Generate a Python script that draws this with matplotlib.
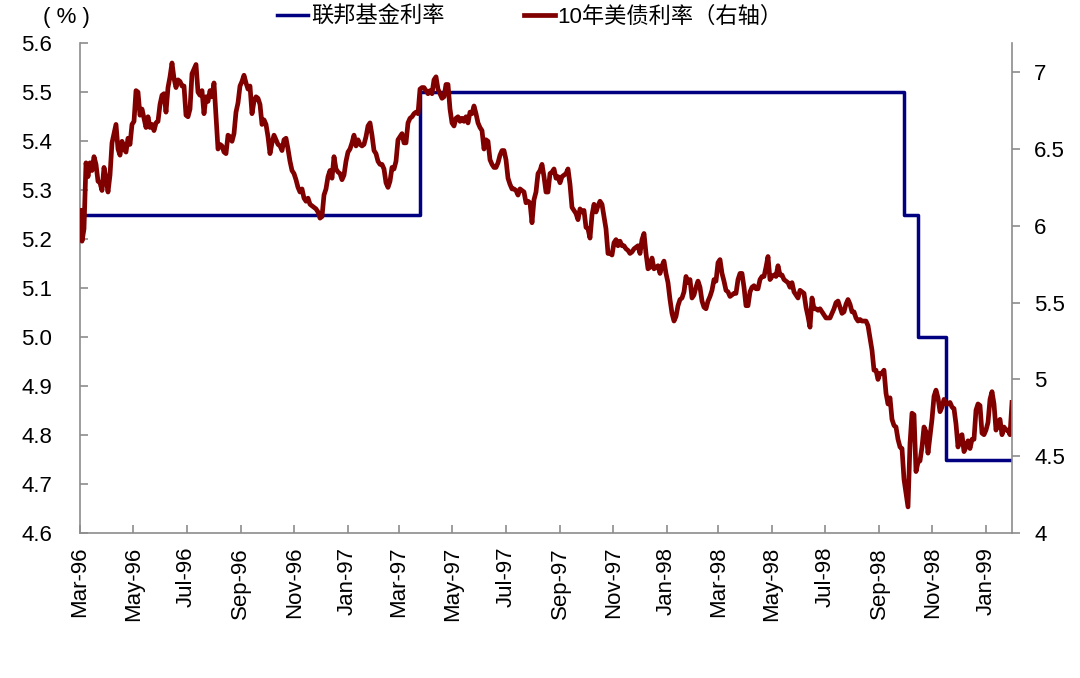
import pandas as pd
import matplotlib
matplotlib.use('Agg')
import matplotlib.pyplot as plt
import matplotlib.dates as mdates
from matplotlib.ticker import FuncFormatter

plt.rcParams['font.family'] = ['Liberation Sans', 'Noto Sans CJK SC']

# 联邦基金目标利率 (左轴)
fed_dates = ['1996-03-01', '1997-03-25', '1998-09-29', '1998-10-15', '1998-11-17', '1999-01-31']
fed_rates = [5.25, 5.50, 5.25, 5.00, 4.75, 4.75]

# 10年美债利率 (右轴), 读图得到, 等间隔
ust_start = '1996-03-01'
ust_end = '1999-01-31'
ust10y = [
    6.10, 5.90, 5.98, 6.41, 6.32, 6.41, 6.36, 6.45, 6.40, 6.29,
    6.28, 6.23, 6.38, 6.31, 6.22, 6.33, 6.54, 6.60, 6.66, 6.50,
    6.46, 6.55, 6.50, 6.48, 6.57, 6.53, 6.66, 6.68, 6.88, 6.87,
    6.72, 6.76, 6.70, 6.64, 6.71, 6.64, 6.66, 6.62, 6.67, 6.68,
    6.79, 6.85, 6.86, 6.74, 6.90, 6.97, 7.06, 6.96, 6.90, 6.95,
    6.94, 6.91, 6.91, 6.72, 6.71, 6.76, 6.99, 7.02, 7.05, 6.87,
    6.85, 6.88, 6.73, 6.84, 6.81, 6.88, 6.84, 6.93, 6.72, 6.50,
    6.53, 6.52, 6.48, 6.47, 6.59, 6.58, 6.55, 6.60, 6.74, 6.80,
    6.91,
    6.94, 6.98, 6.93, 6.89, 6.91, 6.73, 6.81, 6.84, 6.83, 6.79,
    6.66, 6.69, 6.66, 6.58, 6.47, 6.54, 6.59, 6.56, 6.53, 6.52,
    6.49, 6.56, 6.57, 6.50, 6.42, 6.36, 6.34, 6.30, 6.25, 6.22,
    6.24, 6.18, 6.16, 6.18, 6.14, 6.13, 6.12, 6.11, 6.09, 6.05,
    6.06, 6.20, 6.24, 6.32, 6.36, 6.31, 6.45, 6.37, 6.35, 6.34,
    6.30, 6.33, 6.42, 6.48, 6.50, 6.54, 6.59, 6.52, 6.56, 6.53,
    6.52, 6.53, 6.58, 6.65, 6.67, 6.59, 6.49, 6.47, 6.42, 6.40,
    6.40, 6.37, 6.28, 6.25, 6.29, 6.38, 6.37, 6.42,
    6.56, 6.58, 6.60, 6.54, 6.54, 6.67, 6.70, 6.71, 6.73, 6.74,
    6.73, 6.89, 6.90, 6.90, 6.88, 6.86, 6.88, 6.86, 6.95, 6.97,
    6.89, 6.86, 6.83, 6.84, 6.92, 6.92, 6.76, 6.67, 6.65, 6.70,
    6.71, 6.68, 6.70, 6.68, 6.71, 6.67, 6.74, 6.73, 6.78, 6.73,
    6.67, 6.64, 6.62, 6.50, 6.56, 6.55, 6.43, 6.40, 6.38, 6.38,
    6.41, 6.46, 6.49, 6.49, 6.43, 6.31, 6.27, 6.24, 6.24, 6.23,
    6.20, 6.24, 6.23, 6.22, 6.15, 6.16, 6.15, 6.02, 6.17, 6.22,
    6.34, 6.36, 6.40, 6.32, 6.22, 6.22, 6.34,
    6.35, 6.37, 6.31, 6.32, 6.28, 6.32, 6.33, 6.34, 6.37, 6.27,
    6.12, 6.10, 6.08, 6.04, 6.11, 6.09, 6.10, 5.99, 5.98, 5.92,
    6.07, 6.14, 6.09, 6.13, 6.16, 6.14, 6.06, 5.98, 5.82, 5.82,
    5.81, 5.89, 5.91, 5.87, 5.90, 5.87, 5.87, 5.85, 5.84, 5.82,
    5.83, 5.85, 5.86, 5.87, 5.82, 5.91, 5.95, 5.82, 5.72, 5.73,
    5.79, 5.72, 5.73, 5.74, 5.69, 5.74, 5.77, 5.69, 5.63, 5.52,
    5.43, 5.38, 5.41, 5.48, 5.52, 5.53, 5.57, 5.67, 5.63, 5.65,
    5.53, 5.55, 5.60, 5.64, 5.60, 5.51, 5.47, 5.46,
    5.51, 5.54, 5.58, 5.65, 5.64, 5.76, 5.78, 5.69, 5.64, 5.58,
    5.57, 5.54, 5.55, 5.56, 5.56, 5.65, 5.69, 5.69, 5.60, 5.48,
    5.48, 5.57, 5.60, 5.61, 5.59, 5.59, 5.65, 5.67, 5.67, 5.73,
    5.80, 5.65, 5.67, 5.68, 5.67, 5.74, 5.68, 5.68, 5.65, 5.64,
    5.63, 5.60, 5.63, 5.57, 5.55, 5.53, 5.58, 5.57, 5.56, 5.47,
    5.41, 5.34, 5.53, 5.46, 5.46, 5.45, 5.46, 5.44, 5.42, 5.40,
    5.40, 5.40, 5.43, 5.46, 5.50, 5.51, 5.47, 5.43, 5.44, 5.49,
    5.52, 5.49, 5.44, 5.44, 5.40, 5.38, 5.39,
    5.38, 5.38, 5.38, 5.35, 5.27, 5.19, 5.06, 5.06, 5.00, 5.04,
    5.04, 5.06, 4.91, 4.84, 4.88, 4.74, 4.70, 4.69, 4.61, 4.56,
    4.55, 4.35, 4.26, 4.17, 4.58, 4.78, 4.77, 4.40, 4.46, 4.47,
    4.56, 4.69, 4.66, 4.52, 4.63, 4.74, 4.89, 4.93, 4.88, 4.79,
    4.82, 4.87, 4.84, 4.84, 4.85, 4.82, 4.81, 4.71, 4.56, 4.63,
    4.64, 4.53, 4.56, 4.60, 4.55, 4.61, 4.61, 4.80, 4.84, 4.83,
    4.65, 4.64, 4.67, 4.72, 4.87, 4.92, 4.84, 4.67, 4.72, 4.74,
    4.64, 4.69, 4.67, 4.67, 4.64, 4.85,
]

left_ticks = [4.6, 4.7, 4.8, 4.9, 5.0, 5.1, 5.2, 5.3, 5.4, 5.5, 5.6]
right_ticks = [4, 4.5, 5, 5.5, 6, 6.5, 7]

ust_dates = pd.date_range(ust_start, ust_end, periods=len(ust10y))
fed_x = pd.to_datetime(fed_dates)

grey = '#8c8c8c'
fs = 16

fig = plt.figure(figsize=(10.8, 6.78), dpi=100)
ax = fig.add_axes([80 / 1080, 1 - 533 / 678, (1012 - 80) / 1080, 490 / 678])
ax2 = ax.twinx()

l1, = ax.plot(fed_x, fed_rates, drawstyle='steps-post', color='#000080', lw=2.5)
l2, = ax2.plot(ust_dates, ust10y, color='#800000', lw=3.4)

ax.set_xlim(pd.Timestamp(ust_start), pd.Timestamp(ust_end))
ax.set_ylim(4.6, 5.6)
ax2.set_ylim(4, 4 + 490 / 153.6)

ax.set_yticks(left_ticks)
ax.yaxis.set_major_formatter(FuncFormatter(lambda v, p: '%.1f' % v))
ax2.set_yticks(right_ticks)
ax2.yaxis.set_major_formatter(FuncFormatter(lambda v, p: '%g' % v))

ax.xaxis.set_major_locator(mdates.MonthLocator(bymonth=[1, 3, 5, 7, 9, 11]))
ax.xaxis.set_major_formatter(mdates.DateFormatter('%b-%y'))

for a in (ax, ax2):
    a.spines['top'].set_visible(False)
ax.spines['right'].set_visible(False)
ax2.spines['left'].set_visible(False)
ax2.spines['bottom'].set_visible(False)
for s in (ax.spines['left'], ax.spines['bottom'], ax2.spines['right']):
    s.set_color(grey)
    s.set_linewidth(1.2)

ax.tick_params(axis='y', direction='in', length=6, width=1.2, color=grey, pad=20, labelsize=fs)
ax.tick_params(axis='x', direction='in', length=6, width=1.2, color=grey, pad=10, labelsize=fs, labelrotation=90)
ax2.tick_params(axis='y', direction='out', length=6, width=1.2, color=grey, pad=10, labelsize=fs)

fig.legend([l1, l2], ['联邦基金利率', '10年美债利率（右轴）'], loc='center',
           bbox_to_anchor=(530 / 1080, 1 - 17 / 678), ncol=2, frameon=False, fontsize=fs,
           handlelength=1.4, handletextpad=0.1, columnspacing=3.6)
fig.text(66 / 1080, 1 - 18 / 678, '( % )', ha='center', va='center', fontsize=fs)

fig.savefig('out.png', dpi=100)
